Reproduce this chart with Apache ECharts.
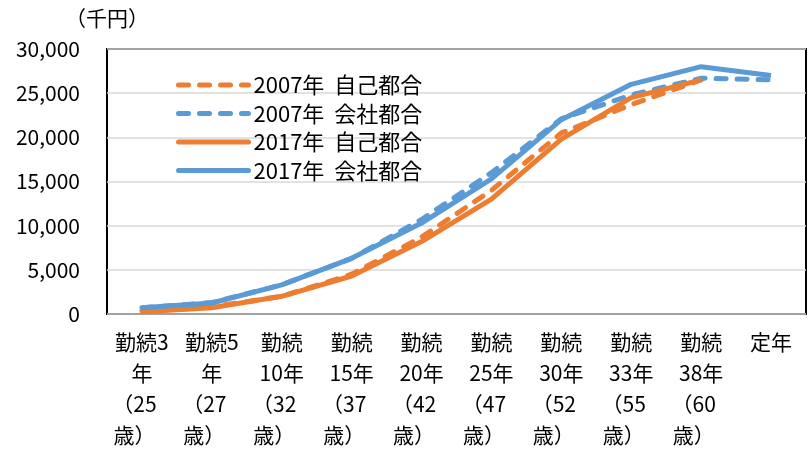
<!DOCTYPE html>
<html>
<head>
<meta charset="utf-8">
<script src="https://cdn.jsdelivr.net/npm/echarts@6/dist/echarts.min.js"></script>
<style>
html,body{margin:0;padding:0;background:#fff;}
#c{width:808px;height:455px;}
</style>
</head>
<body>
<div id="c"></div>
<script>
var categories = [
  '勤続3\n年\n（25\n歳）',
  '勤続5\n年\n（27\n歳）',
  '勤続\n10年\n（32\n歳）',
  '勤続\n15年\n（37\n歳）',
  '勤続\n20年\n（42\n歳）',
  '勤続\n25年\n（47\n歳）',
  '勤続\n30年\n（52\n歳）',
  '勤続\n33年\n（55\n歳）',
  '勤続\n38年\n（60\n歳）',
  '定年'
];
var seriesNames = ['2007年  自己都合', '2007年  会社都合', '2017年  自己都合', '2017年  会社都合'];
var self2007 = [300, 800, 2000, 4500, 8700, 14000, 20500, 23700, 26500, null];
var company2007 = [700, 1300, 3300, 6300, 10700, 16000, 22100, 24800, 26700, 26500];
var self2017 = [250, 700, 2000, 4300, 8200, 13000, 19800, 24500, 26500, null];
var company2017 = [700, 1250, 3300, 6300, 10300, 15300, 22000, 26000, 28000, 27000];
var yTicks = {min: 0, max: 30000, interval: 5000};

var ORANGE = '#ED7D31', BLUE = '#5B9BD5';
var FONT = '"Noto Sans CJK JP", "Noto Sans", sans-serif';
var LW = 5;

function mk(name, data, color, dashed) {
  return {
    name: name, type: 'line', data: data, symbol: 'none', smooth: false,
    connectNulls: false,
    lineStyle: {color: color, width: LW, type: dashed ? [10, 11] : 'solid', cap: dashed ? 'round' : 'butt', join: 'round'},
    itemStyle: {color: color},
    emphasis: {disabled: true}
  };
}

function xLabel(v) {
  var lines = v.split('\n');
  return lines.map(function (s, i) {
    return (i >= 2) ? '{p|' + s + '}' : '{n|' + s + '}';
  }).join('\n');
}

var chart = echarts.init(document.getElementById('c'), null, {renderer: 'canvas'});
chart.setOption({
  animation: false,
  backgroundColor: '#fff',
  textStyle: {fontFamily: FONT, color: '#000'},
  grid: {left: 107, right: 2, top: 49, bottom: 141, show: true, borderColor: '#000', borderWidth: 2, backgroundColor: 'transparent'},
  legend: {
    orient: 'vertical', left: 171, top: 69,
    itemWidth: 70, itemHeight: 14, itemGap: 6.5,
    itemStyle: {opacity: 0},
    lineStyle: {width: LW, cap: 'round'},
    textStyle: {fontFamily: FONT, fontSize: 22, color: '#000', lineHeight: 22},
    data: seriesNames
  },
  xAxis: {
    type: 'category', data: categories, boundaryGap: true,
    axisLine: {show: false}, axisTick: {show: false},
    axisLabel: {interval: 0, fontSize: 21, lineHeight: 31, margin: 13, color: '#000', fontFamily: FONT,
      formatter: xLabel,
      rich: {
        n: {fontSize: 21, lineHeight: 31, color: '#000', fontFamily: FONT},
        p: {fontSize: 21, lineHeight: 31, color: '#000', fontFamily: FONT, padding: [0, 15, 0, 0]}
      }}
  },
  yAxis: {
    type: 'value', min: yTicks.min, max: yTicks.max, interval: yTicks.interval,
    name: '（千円）', nameLocation: 'end', nameGap: 20,
    nameTextStyle: {fontSize: 21, color: '#000', fontFamily: FONT},
    axisLine: {show: false}, axisTick: {show: false},
    axisLabel: {fontSize: 21, margin: 27, color: '#000', fontFamily: FONT,
      formatter: function (v) { return v.toLocaleString('en-US'); }},
    splitLine: {lineStyle: {color: '#d9d9d9', width: 1.5}}
  },
  series: [
    mk(seriesNames[0], self2007, ORANGE, true),
    mk(seriesNames[1], company2007, BLUE, true),
    mk(seriesNames[2], self2017, ORANGE, false),
    mk(seriesNames[3], company2017, BLUE, false)
  ]
});
</script>
</body>
</html>
